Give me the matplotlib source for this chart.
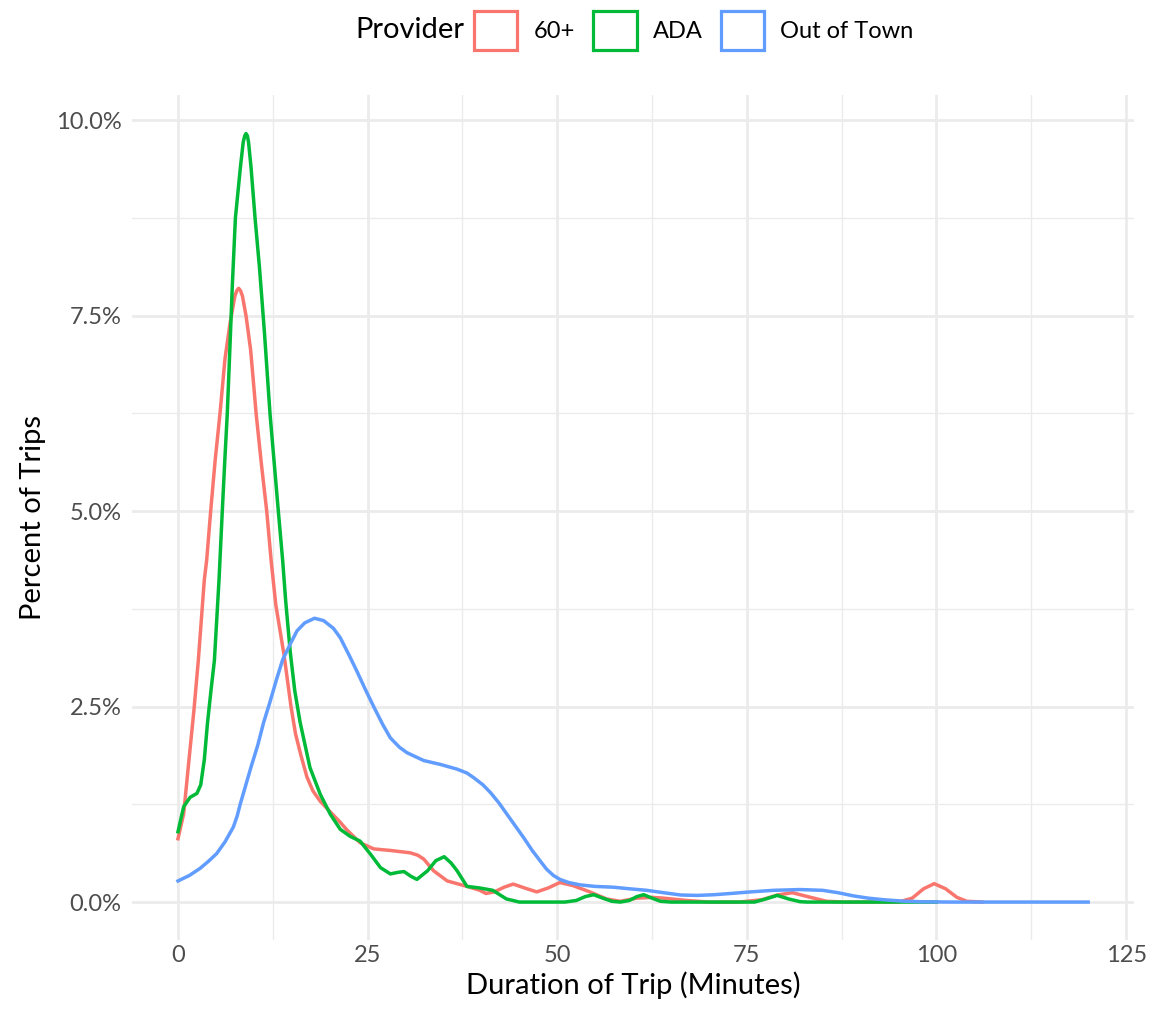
import matplotlib
matplotlib.use('Agg')
import matplotlib.pyplot as plt
from matplotlib.patches import Patch
from matplotlib.ticker import FuncFormatter, MultipleLocator

plt.rcParams['font.family'] = ['Lato', 'DejaVu Sans']

# values (minutes, percent of trips)
x_60 = [0, 0.75, 1.45, 2.1, 2.68, 3.47, 3.78, 4.31, 4.9, 5.54, 6.2, 6.86, 7.5, 7.75, 8.0,
        8.25, 8.5, 8.97, 9.58, 9.93, 10.3, 11.0, 11.7, 12.3, 12.9, 14.0, 14.9, 15.5,
        16.2, 17.0, 17.8, 18.75, 20.1, 21.2, 22.3, 24.0, 25.8, 28.0, 30.6, 31.6,
        32.4, 33.7, 35.5, 38.1, 39.8, 40.6, 41.7, 43.0, 44.2, 45.7, 47.3, 48.8,
        50.35, 52.1, 54.3, 56.5, 58.3, 60.5, 62.5, 64.0, 67.1, 70.0, 74.0, 77.0,
        79.0, 81.0, 83.0, 85.5, 88.0, 95.0, 96.8, 98.3, 99.7, 101.2, 102.7,
        104.0, 106.0]
y_60 = [0.81, 1.13, 1.82, 2.45, 3.09, 4.12, 4.37, 5.0, 5.65, 6.25, 6.95, 7.4, 7.75, 7.82, 7.85,
        7.82, 7.75, 7.5, 7.06, 6.67, 6.25, 5.6, 5.0, 4.35, 3.8, 3.15, 2.5, 2.15,
        1.88, 1.6, 1.42, 1.29, 1.15, 1.04, 0.92, 0.76, 0.68, 0.66, 0.63, 0.6,
        0.55, 0.4, 0.27, 0.2, 0.15, 0.11, 0.13, 0.19, 0.23, 0.18, 0.13, 0.18,
        0.25, 0.21, 0.13, 0.04, 0.01, 0.05, 0.06, 0.05, 0.02, 0.0, 0.0, 0.03,
        0.09, 0.12, 0.07, 0.01, 0.0, 0.0, 0.05, 0.17, 0.235, 0.17, 0.06,
        0.01, 0.0]

x_ada = [0, 0.75, 1.6, 2.5, 3.0, 3.47, 3.9, 4.4, 4.8, 5.41, 5.84, 6.2, 6.5, 6.85,
         7.17, 7.57, 8.23, 8.6, 8.8, 8.97, 9.15, 9.3, 9.63, 10.16, 10.74, 11.38, 12.13, 12.7,
         13.23, 13.8, 14.2, 14.8, 15.4, 16.1, 17.4, 18.75, 20.1, 21.4, 22.7, 24.0,
         25.4, 26.7, 28.0, 29.0, 29.8, 30.7, 31.5, 32.9, 34.0, 35.1, 36.0, 36.8,
         38.1, 39.8, 41.5, 43.3, 45.0, 51.0, 52.5, 53.7, 54.8, 56.0, 57.2, 58.3,
         59.5, 60.5, 61.4, 62.5, 63.6, 65.0, 76.0, 77.5, 79.0, 80.5, 82.0, 83.0,
         100.0]
y_ada = [0.9, 1.22, 1.34, 1.39, 1.5, 1.82, 2.3, 2.75, 3.09, 4.12, 5.0, 5.7, 6.25, 7.1,
         7.9, 8.75, 9.4, 9.72, 9.8, 9.83, 9.8, 9.72, 9.4, 8.75, 8.12, 7.31, 6.25, 5.6,
         5.0, 4.37, 3.85, 3.2, 2.7, 2.3, 1.72, 1.38, 1.12, 0.93, 0.84, 0.78,
         0.61, 0.44, 0.36, 0.38, 0.39, 0.33, 0.29, 0.4, 0.53, 0.58, 0.5, 0.4,
         0.2, 0.18, 0.15, 0.04, 0.0, 0.0, 0.02, 0.07, 0.094, 0.05, 0.01, 0.0,
         0.02, 0.07, 0.094, 0.05, 0.01, 0.0, 0.0, 0.04, 0.085, 0.04, 0.005, 0.0,
         0.0]

x_oot = [0, 1.5, 2.9, 4.0, 5.1, 6.2, 7.3, 7.8, 8.2, 8.8, 9.7, 10.5, 11.3, 12.1, 13.0, 13.8,
         14.8, 15.7, 16.7, 18.0, 19.2, 20.5, 21.4, 22.6, 23.6, 24.7, 25.8, 27.0,
         28.0, 29.2, 30.2, 32.4, 34.6, 36.8, 38.1, 39.0, 40.2, 41.2, 42.3, 43.4,
         44.5, 45.6, 46.7, 47.8, 48.6, 49.5, 50.35, 51.5, 53.0, 55.0, 57.4, 59.5,
         61.8, 64.0, 66.3, 68.5, 70.7, 72.9, 75.5, 78.5, 82.0, 85.0, 87.0, 89.0,
         91.0, 93.0, 95.5, 98.2, 102.0, 110.0, 120.0]
y_oot = [0.27, 0.34, 0.43, 0.52, 0.62, 0.77, 0.96, 1.1, 1.25, 1.45, 1.75, 2.0, 2.3, 2.55, 2.85, 3.1,
         3.3, 3.47, 3.57, 3.63, 3.6, 3.5, 3.38, 3.15, 2.95, 2.72, 2.5, 2.27,
         2.1, 1.98, 1.91, 1.81, 1.76, 1.7, 1.65, 1.59, 1.5, 1.4, 1.27, 1.12,
         0.97, 0.82, 0.66, 0.52, 0.42, 0.34, 0.29, 0.25, 0.22, 0.2, 0.19, 0.17,
         0.15, 0.12, 0.09, 0.085, 0.094, 0.11, 0.13, 0.15, 0.16, 0.15, 0.12, 0.08,
         0.05, 0.03, 0.012, 0.003, 0.0, 0.0, 0.0]

providers = ['60+', 'ADA', 'Out of Town']
colors = ['#F8766D', '#00BA38', '#619CFF']
series = [(x_60, y_60), (x_ada, y_ada), (x_oot, y_oot)]

fig = plt.figure(figsize=(11.58, 10.13), dpi=100)
ax = fig.add_axes([0.1144, 0.0717, 0.8646, 0.8343])

for (xs, ys), c in zip(series, colors):
    ax.plot(xs, [v / 100 for v in ys], color=c, lw=2.5, solid_joinstyle='round', zorder=3)

ax.set_xlim(-6, 126)
ax.set_ylim(-0.0049, 0.1032)
ax.xaxis.set_major_locator(MultipleLocator(25))
ax.xaxis.set_minor_locator(MultipleLocator(12.5))
ax.yaxis.set_major_locator(MultipleLocator(0.025))
ax.yaxis.set_minor_locator(MultipleLocator(0.0125))
ax.yaxis.set_major_formatter(FuncFormatter(lambda v, p: '{:.1f}%'.format(v * 100)))

ax.grid(which='major', color='#EBEBEB', lw=2.0)
ax.grid(which='minor', color='#EBEBEB', lw=1.0)
ax.set_axisbelow(True)
for s in ax.spines.values():
    s.set_visible(False)
ax.tick_params(which='both', length=0)
ax.tick_params(labelsize=17, labelcolor='#4D4D4D')
ax.tick_params(axis='x', pad=3)
ax.tick_params(axis='y', pad=8)

ax.set_xlabel('Duration of Trip (Minutes)', fontsize=21, labelpad=4)
ax.set_ylabel('Percent of Trips', fontsize=21, labelpad=7)

handles = [Patch(facecolor='white', edgecolor=c, lw=2.3) for c in colors]
leg = fig.legend(handles, providers, loc='center', bbox_to_anchor=(0.599, 0.970),
                 ncol=3, frameon=False, fontsize=17, handlelength=1.86,
                 handleheight=2.16, handletextpad=0.68, columnspacing=0.76)
fig.text(0.3066, 0.970, 'Provider', fontsize=21, ha='left', va='center')

fig.savefig('out.png')
